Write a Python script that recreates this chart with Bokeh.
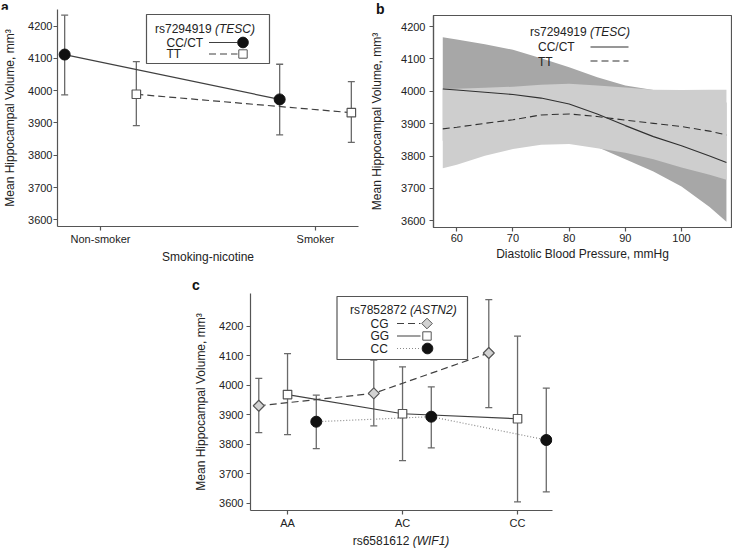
import numpy as np
from bokeh.plotting import figure
from bokeh.models import (ColumnDataSource, Whisker, TeeHead, FixedTicker, Label,
                          BoxAnnotation, PolyAnnotation, Arrow, Range1d, Spacer, Div)
from bokeh.layouts import row, column
from bokeh.embed import file_html
from bokeh.resources import INLINE

FONT = "Liberation Sans"
TXT = "#222222"
AX = "#555555"
LINE = "#404040"
ERR = "#6a6a6a"

# ---------------- data ----------------
# panel a
a_cats = ["Non-smoker", "Smoker"]
a_cc_mean = [4112, 3973]
a_cc_lo = [3987, 3863]
a_cc_hi = [4234, 4082]
a_tt_mean = [3989, 3932]
a_tt_lo = [3892, 3840]
a_tt_hi = [4090, 4028]

# panel b
b_dbp = [57.5, 60, 65, 70, 75, 80, 85, 90, 95, 100, 105, 108]
b_cc_mean = [4007, 4004, 3997, 3990, 3979, 3961, 3930, 3894, 3860, 3832, 3800, 3780]
b_cc_hi = [4167, 4160, 4145, 4128, 4102, 4074, 4043, 4018, 4004, 3985, 3972, 3965]
b_cc_lo = [3847, 3848, 3850, 3852, 3850, 3848, 3828, 3790, 3752, 3706, 3643, 3597]
b_tt_mean = [3884, 3889, 3901, 3912, 3927, 3930, 3922, 3911, 3901, 3891, 3877, 3865]
b_tt_hi = [4007, 4008, 4011, 4014, 4020, 4023, 4018, 4012, 4005, 4004, 4005, 4005]
b_tt_lo = [3762, 3773, 3801, 3822, 3835, 3837, 3824, 3810, 3790, 3765, 3742, 3727]
b_ticks = [60, 70, 80, 90, 100]

# panel c
c_cats = ["AA", "AC", "CC"]
c_cg_mean = [3930, 3972, 4109]
c_cg_lo = [3839, 3862, 3924]
c_cg_hi = [4023, 4085, 4290]
c_gg_mean = [3968, 3903, 3886]
c_gg_lo = [3832, 3744, 3604]
c_gg_hi = [4107, 4062, 4166]
c_cc_mean = [3876, 3893, 3814]
c_cc_lo = [3785, 3787, 3638]
c_cc_hi = [3966, 3994, 3990]

y_ticks = [3600, 3700, 3800, 3900, 4000, 4100, 4200]
YLABEL = "Mean Hippocampal Volume, mm\u00b3"


def make_fig(width, height, bl, br, bt, bb, xr, yr):
    p = figure(width=width, height=height, x_range=Range1d(*xr), y_range=Range1d(*yr),
               output_backend="svg", toolbar_location=None, title=None, min_border=0,
               min_border_left=bl, min_border_right=br, min_border_top=bt,
               min_border_bottom=bb)
    p.xgrid.visible = False
    p.ygrid.visible = False
    p.outline_line_color = None
    p.background_fill_color = "white"
    p.border_fill_color = "white"
    for ax in (p.xaxis[0], p.yaxis[0]):
        ax.axis_line_color = AX
        ax.axis_line_width = 1.2
        ax.major_tick_line_color = AX
        ax.major_tick_line_width = 1.2
        ax.minor_tick_line_color = None
        ax.major_tick_in = 0
        ax.major_tick_out = 4
        ax.major_label_text_font = FONT
        ax.major_label_text_font_size = "11px"
        ax.major_label_text_color = TXT
        ax.axis_label_text_font = FONT
        ax.axis_label_text_font_size = "12px"
        ax.axis_label_text_font_style = "normal"
        ax.axis_label_text_color = TXT
    p.yaxis[0].ticker = FixedTicker(ticks=y_ticks)
    return p


def txt(p, H, x, ytop, text, style="normal", align="left", size="12px",
        baseline="middle", color=TXT):
    p.add_layout(Label(x=x, y=H - ytop, x_units="screen", y_units="screen", text=text,
                       text_font=FONT, text_font_size=size, text_font_style=style,
                       text_align=align, text_baseline=baseline, text_color=color))


def seg(p, H, x0, x1, y, dash="solid", color=LINE, width=1.2):
    p.add_layout(Arrow(start=None, end=None, x_start=x0, y_start=H - y, x_end=x1,
                       y_end=H - y, start_units="screen", end_units="screen",
                       line_color=color, line_dash=dash, line_width=width))


def poly(p, H, xs, ys, fill, line):
    p.add_layout(PolyAnnotation(xs=list(xs), ys=[H - v for v in ys], xs_units="screen",
                                ys_units="screen", fill_color=fill, fill_alpha=1,
                                line_color=line, line_width=1, line_alpha=1))


def circ_poly(p, H, cx, cy, r, fill, line):
    t = np.linspace(0, 2 * np.pi, 28, endpoint=False)
    poly(p, H, cx + r * np.cos(t), cy + r * np.sin(t), fill, line)


def sq_poly(p, H, cx, cy, h, fill, line):
    poly(p, H, [cx - h, cx + h, cx + h, cx - h], [cy - h, cy - h, cy + h, cy + h], fill, line)


def dia_poly(p, H, cx, cy, r, fill, line):
    poly(p, H, [cx, cx + r, cx, cx - r], [cy - r, cy, cy + r, cy], fill, line)


def box(p, H, l, r, t, b):
    p.add_layout(BoxAnnotation(left=l, right=r, top=H - t, bottom=H - b,
                               left_units="screen", right_units="screen",
                               top_units="screen", bottom_units="screen",
                               fill_color="white", fill_alpha=1, line_color=AX,
                               line_width=1.2, line_alpha=1))


def whisk(p, xs, lo, hi):
    src = ColumnDataSource(dict(x=list(xs), lower=list(lo), upper=list(hi)))
    w = Whisker(base="x", lower="lower", upper="upper", source=src, dimension="height",
                line_color=ERR, line_width=1.3,
                upper_head=TeeHead(size=7, line_color=ERR, line_width=1.3),
                lower_head=TeeHead(size=7, line_color=ERR, line_width=1.3))
    p.add_layout(w)


def letter_div(letter, width, height, left, top, lh=14):
    html = ('<div style="position:relative;left:%dpx;top:%dpx;font-family:\'%s\';'
            'font-weight:bold;font-size:14px;line-height:%dpx;color:#111111;">%s</div>'
            % (left, top, FONT, lh, letter))
    return Div(text=html, width=width, height=height, margin=(0, 0, 0, 0))


# ---------------- panel a ----------------
HA = 217
pa = make_fig(366, 261, 55, 8, 0, 44, (0.8, 2.2), (3579.4, 4251.5))
a_pos = np.arange(1, len(a_cats) + 1)
pa.xaxis[0].ticker = FixedTicker(ticks=list(a_pos))
pa.xaxis[0].major_label_overrides = {int(i): c for i, c in zip(a_pos, a_cats)}
pa.xaxis[0].axis_label = "Smoking-nicotine"
pa.xaxis[0].major_label_standoff = 2
pa.xaxis[0].axis_label_standoff = 2
pa.yaxis[0].axis_label = YLABEL
pa.yaxis[0].major_label_standoff = 1
pa.yaxis[0].axis_label_standoff = 8

xa_cc = a_pos - 1 / 6
xa_tt = a_pos + 1 / 6
pa.line(xa_cc, a_cc_mean, line_color=LINE, line_width=1.2)
pa.line(xa_tt, a_tt_mean, line_color=LINE, line_width=1.2, line_dash="7 4")
whisk(pa, xa_cc, a_cc_lo, a_cc_hi)
whisk(pa, xa_tt, a_tt_lo, a_tt_hi)
pa.scatter(xa_cc, a_cc_mean, marker="circle", size=11, fill_color="#111111",
           line_color="#111111")
pa.scatter(xa_tt, a_tt_mean, marker="square", size=8.5, fill_color="white",
           line_color=AX, line_width=1.2)

box(pa, HA, 89, 212, 5, 54)
txt(pa, HA, 97.5, 19, "rs7294919 ")
txt(pa, HA, 157.5, 19, "(TESC)", style="italic")
txt(pa, HA, 109, 33, "CC/CT")
txt(pa, HA, 109, 44.5, "TT")
seg(pa, HA, 151.5, 180, 33)
seg(pa, HA, 151.5, 180, 44.5, dash="7 4")
circ_poly(pa, HA, 185.5, 33, 5.3, "#111111", "#111111")
sq_poly(pa, HA, 185.5, 44.5, 4.2, "white", AX)

# ---------------- panel b ----------------
HB = 212
pb = make_fig(366, 255, 67, 1, 0, 43, (55.85, 108.9), (3579.4, 4234))
pb.outline_line_color = AX
pb.outline_line_width = 1.2
pb.xaxis[0].ticker = FixedTicker(ticks=b_ticks)
pb.xaxis[0].axis_label = "Diastolic Blood Pressure, mmHg"
pb.xaxis[0].major_label_standoff = 2
pb.xaxis[0].axis_label_standoff = 2
pb.yaxis[0].axis_label = YLABEL
pb.yaxis[0].major_label_standoff = 4
pb.yaxis[0].axis_label_standoff = 14

pb.varea(x=b_dbp, y1=b_cc_lo, y2=b_cc_hi, fill_color="#a7a7a7")
pb.varea(x=b_dbp, y1=b_tt_lo, y2=b_tt_hi, fill_color="#cecece")
pb.line(b_dbp, b_cc_mean, line_color="#303030", line_width=1.1)
pb.line(b_dbp, b_tt_mean, line_color="#303030", line_width=1.1, line_dash="7 4")

txt(pb, HB, 96.5, 16.5, "rs7294919 ")
txt(pb, HB, 156.5, 16.5, "(TESC)", style="italic")
txt(pb, HB, 104.5, 31.5, "CC/CT")
txt(pb, HB, 104.5, 46, "TT")
seg(pb, HB, 157, 195, 31.5, color="#303030")
seg(pb, HB, 157, 195, 45.5, dash="7 4", color="#303030")

# ---------------- panel c ----------------
HC = 217
pc = make_fig(380, 240, 70, 8, 0, 23, (0.678, 3.304), (3575, 4310.6))
c_pos = np.arange(1, len(c_cats) + 1)
pc.xaxis[0].ticker = FixedTicker(ticks=list(c_pos))
pc.xaxis[0].major_label_overrides = {int(i): c for i, c in zip(c_pos, c_cats)}
pc.xaxis[0].major_label_standoff = 2
pc.yaxis[0].axis_label = YLABEL
pc.yaxis[0].major_label_standoff = 3
pc.yaxis[0].axis_label_standoff = 8

xc_cg = c_pos - 0.25
xc_gg = c_pos
xc_cc = c_pos + 0.25
pc.line(xc_cg, c_cg_mean, line_color=LINE, line_width=1.2, line_dash="7 4")
pc.line(xc_gg, c_gg_mean, line_color=LINE, line_width=1.2)
pc.line(xc_cc, c_cc_mean, line_color="#8a8a8a", line_width=1.2, line_dash="1 2")
whisk(pc, xc_cg, c_cg_lo, c_cg_hi)
whisk(pc, xc_gg, c_gg_lo, c_gg_hi)
whisk(pc, xc_cc, c_cc_lo, c_cc_hi)
pc.scatter(xc_cg, c_cg_mean, marker="square", angle=np.pi / 4, size=7.8,
           fill_color="#d2d2d2", line_color=AX, line_width=1.2)
pc.scatter(xc_gg, c_gg_mean, marker="square", size=8.5, fill_color="white",
           line_color=AX, line_width=1.2)
pc.scatter(xc_cc, c_cc_mean, marker="circle", size=11, fill_color="#111111",
           line_color="#111111")

box(pc, HC, 86.5, 217, 3, 66)
txt(pc, HC, 99.5, 16.5, "rs7852872 ")
txt(pc, HC, 159.5, 16.5, "(ASTN2)", style="italic")
txt(pc, HC, 120, 30, "CG")
txt(pc, HC, 120, 42.5, "GG")
txt(pc, HC, 120, 55, "CC")
seg(pc, HC, 146.5, 170, 30, dash="7 4")
seg(pc, HC, 146.5, 170, 42.5)
seg(pc, HC, 146.5, 170, 55, dash="1 2", color="#8a8a8a")
dia_poly(pc, HC, 176.5, 30, 5.3, "#d2d2d2", AX)
sq_poly(pc, HC, 176.5, 42.5, 4.2, "white", AX)
circ_poly(pc, HC, 177, 55, 5.3, "#111111", "#111111")

# x-axis title of panel c (gene name in italics)
xt_html = ('<div style="margin-left:70px;width:302px;text-align:center;'
           'font-family:\'%s\';font-size:12px;line-height:15px;color:%s;">'
           'rs6581612 <i>(WIF1)</i></div>' % (FONT, TXT))
div_xt = Div(text=xt_html, width=380, height=15, margin=(0, 0, 0, 0))

div_a = letter_div("a", 366, 9, 1, 0, lh=10)
div_b = letter_div("b", 366, 15, 10, 2)
div_c = letter_div("c", 380, 23, 12, 8)

top = row(column(div_a, pa), column(div_b, pb))
bottom = row(Spacer(width=180, height=278), column(div_c, pc, div_xt))
layout = column(top, bottom)
open("out.html", "w").write(file_html(layout, INLINE))
